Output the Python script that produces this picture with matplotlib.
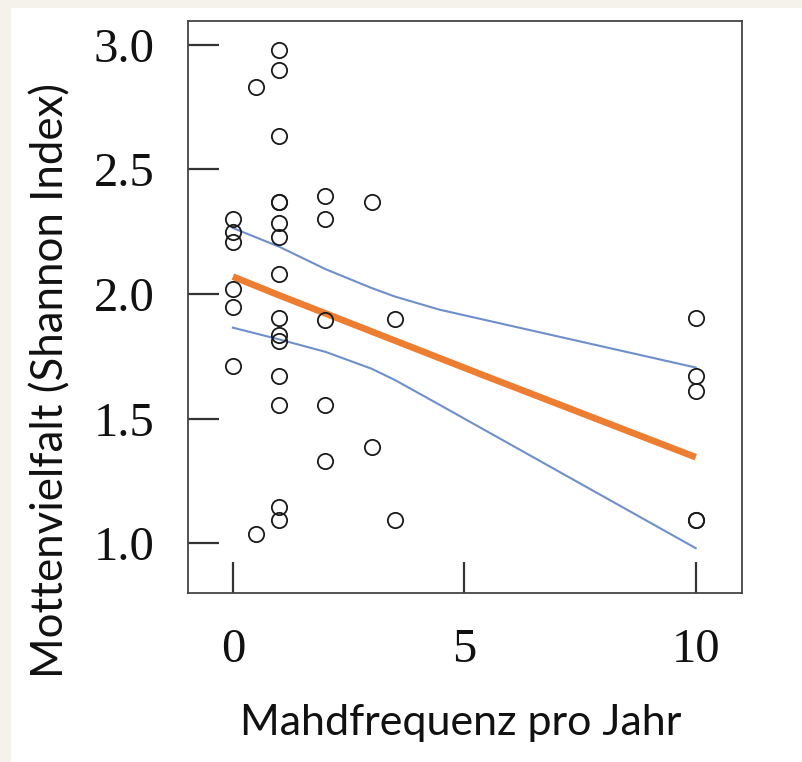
import matplotlib
matplotlib.use("Agg")
import matplotlib.pyplot as plt
from matplotlib.patches import Rectangle

# mowing frequency per year and moth diversity (Shannon index)
mow_freq = [0, 0, 0, 0, 0, 0,
            0.5, 0.5,
            1, 1, 1, 1, 1, 1, 1, 1, 1, 1, 1, 1, 1, 1, 1,
            2, 2, 2, 2, 2,
            3, 3,
            3.5, 3.5,
            10, 10, 10, 10, 10]
shannon = [2.30, 2.25, 2.21, 2.02, 1.95, 1.71,
           2.83, 1.036,
           2.98, 2.90, 2.635, 2.37, 2.37, 2.285, 2.23, 2.08, 1.905, 1.835, 1.81,
           1.67, 1.556, 1.146, 1.095,
           2.395, 2.30, 1.896, 1.556, 1.33,
           2.37, 1.385,
           1.90, 1.095,
           1.905, 1.67, 1.61, 1.095, 1.095]

# fitted trend and confidence band
fit_x = [0, 1, 5.33, 10]
fit_y = [2.07, 1.995, 1.68, 1.345]
ci_x = [0, 1, 2, 3, 3.5, 4.47, 10]
ci_upper = [2.265, 2.19, 2.10, 2.024, 1.99, 1.937, 1.705]
ci_lower = [1.865, 1.818, 1.768, 1.70, 1.655, 1.555, 0.98]

x_ticks = [0, 5, 10]
y_ticks = [1.0, 1.5, 2.0, 2.5, 3.0]
x_label = "Mahdfrequenz pro Jahr"
y_label = "Mottenvielfalt (Shannon Index)"

fig = plt.figure(figsize=(8.03, 7.62), dpi=100)
fig.patch.set_facecolor("#f5f2eb")
fig.patches.append(Rectangle((11 / 803, 0), 1, 754 / 762, transform=fig.transFigure,
                             facecolor="white", edgecolor="none", zorder=-1))

ax = fig.add_axes([188 / 803, 169 / 762, 554 / 803, 572 / 762])
ax.plot(ci_x, ci_upper, color="#6f8fca", lw=1.5, zorder=2)
ax.plot(ci_x, ci_lower, color="#6f8fca", lw=1.5, zorder=2)
ax.plot(fit_x, fit_y, color="#ed7d31", lw=4.8, solid_capstyle="butt", zorder=3)
ax.plot(mow_freq, shannon, "o", ms=11, mfc="none", mec="#1a1a1a", mew=1.3, zorder=4)

ax.set_xlim(-0.97, 11.0)
ax.set_ylim(0.80, 3.096)
ax.set_xticks(x_ticks)
ax.set_xticklabels([str(t) for t in x_ticks])
ax.set_yticks(y_ticks)
ax.set_yticklabels([f"{t:.1f}" for t in y_ticks])
ax.tick_params(direction="in", length=22, width=1.6, color="#333333",
               labelsize=35, labelcolor="#111111")
ax.tick_params(axis="y", pad=24)
ax.tick_params(axis="x", pad=25)
for lab in ax.get_xticklabels() + ax.get_yticklabels():
    lab.set_family("Liberation Serif")
for sp in ax.spines.values():
    sp.set_color("#444444")
    sp.set_linewidth(1.3)

fig.text(461 / 803, 1 - 735 / 762, x_label, family="Lato", fontsize=31,
         ha="center", va="baseline", color="#111111")
fig.text(51 / 803, 1 - 381 / 762, y_label, family="Lato", fontsize=31.5,
         rotation=90, ha="center", va="center", color="#111111")

fig.savefig("out.png", dpi=100)
